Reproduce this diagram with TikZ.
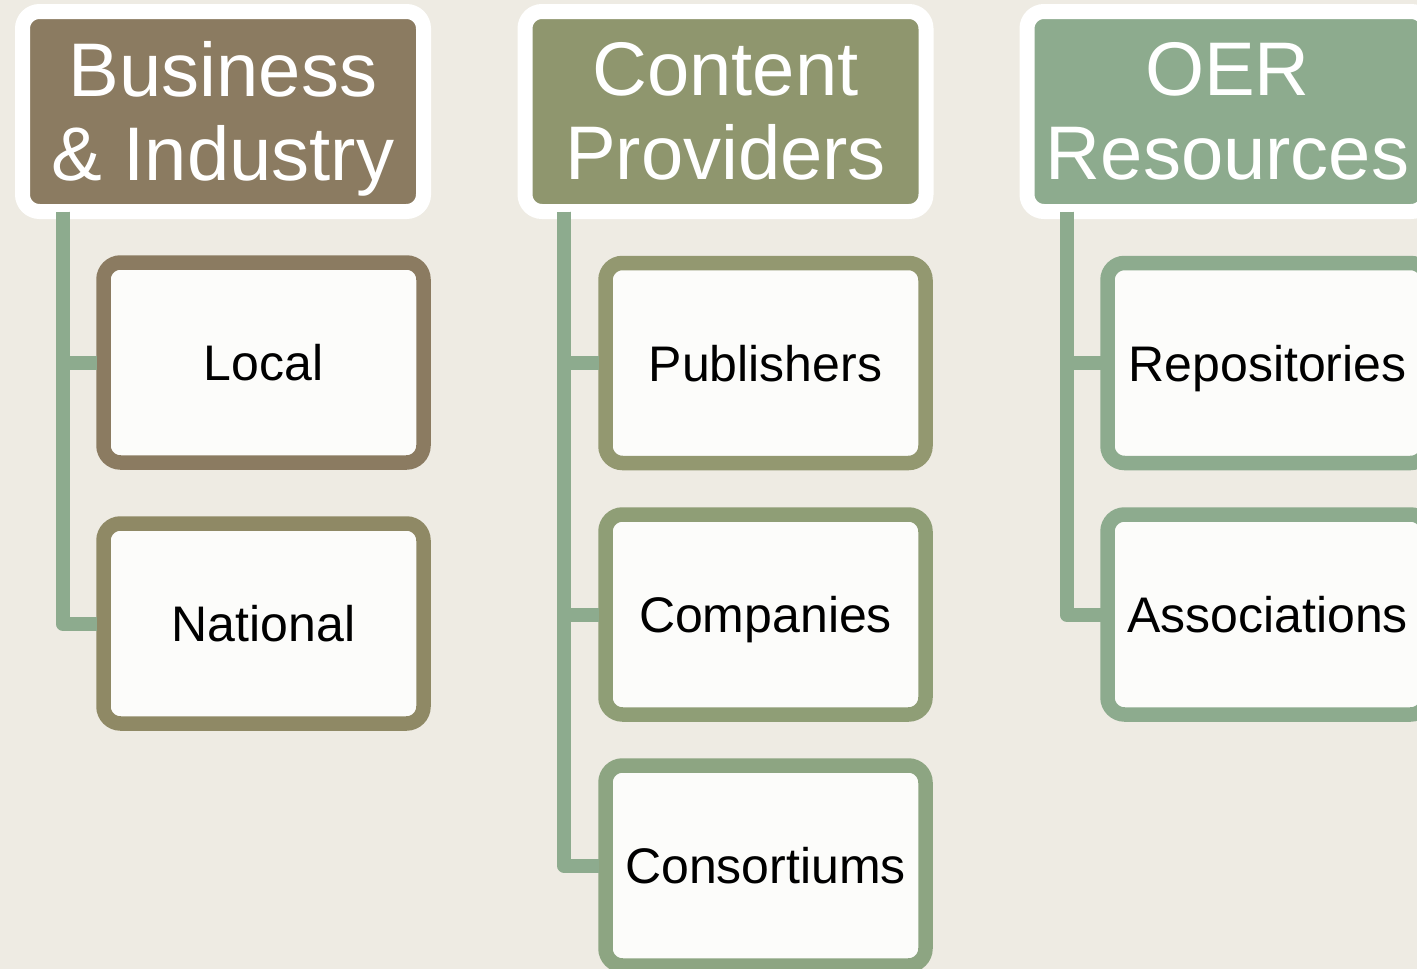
\documentclass[tikz,border=0pt]{standalone}
\usepackage{fontspec}
\setmainfont{Liberation Sans}
\usepackage{tikz}
\usepackage{xcolor}

\definecolor{fundo}{RGB}{238,235,227}
\definecolor{cbrown}{RGB}{139,123,97}
\definecolor{colive}{RGB}{143,150,110}
\definecolor{cgreen}{RGB}{141,171,142}
\definecolor{cnat}{RGB}{143,137,101}
\definecolor{cpub}{RGB}{147,152,112}
\definecolor{ccomp}{RGB}{143,158,118}
\definecolor{ccons}{RGB}{141,165,130}
\definecolor{caixa}{RGB}{252,252,250}

\tikzset{
  headbox/.style={fill=#1, draw=white, line width=15pt, rounded corners=17pt,
    minimum width=401pt, minimum height=200pt, inner sep=0pt, outer sep=0pt,
    text=white, align=center, font=\fontsize{76}{84}\selectfont},
  leafbox/.style={fill=caixa, draw=#1, line width=14.5pt, rounded corners=17pt,
    minimum width=320pt, minimum height=200pt, inner sep=0pt, outer sep=0pt,
    text height=36pt, text depth=0pt, font=\fontsize{50}{60}\selectfont},
  conn/.style={draw=cgreen, line width=14pt, line join=round, shorten >=7pt}
}

\begin{document}
\begin{tikzpicture}[x=1pt, y=-1pt]
    % Fundo
    \useasboundingbox (0,0) rectangle (1417,969);
    \clip (0,0) rectangle (1417,969);
    \fill[fundo] (0,0) rectangle (1417,969);
    % Cabecalhos
    \node[headbox=cbrown] (bus) at (223,111.5) {Business\\\& Industr\smash{y}};
    \node[headbox=colive] (cont) at (725.5,111.5) {Content\\Providers};
    \node[headbox=cgreen] (oer) at (1227.5,111.5) {OER\\Resources};
    % Caixas
    \node[leafbox=cbrown] (local) at (263.5,362.5) {Local};
    \node[leafbox=cnat] (national) at (263.5,623.5) {National};
    \node[leafbox=cpub] (publishers) at (765.5,363) {Publishers};
    \node[leafbox=ccomp] (companies) at (765.5,614.5) {Companies};
    \node[leafbox=ccons] (consortiums) at (765.5,865.5) {Consortiums};
    \node[leafbox=cgreen] (repositories) at (1267.5,363) {Repositories};
    \node[leafbox=cgreen] (associations) at (1267.5,614.5) {Associations};
    % Ligacoes
    \coordinate (busx) at ([xshift=40pt]bus.south west);
    \coordinate (contx) at ([xshift=39pt]cont.south west);
    \coordinate (oerx) at ([xshift=39.5pt]oer.south west);
    \draw[conn] (busx) |- (local.west);
    \draw[conn] (busx) |- (national.west);
    \draw[conn] (contx) |- (publishers.west);
    \draw[conn] (contx) |- (companies.west);
    \draw[conn] (contx) |- (consortiums.west);
    \draw[conn] (oerx) |- (repositories.west);
    \draw[conn] (oerx) |- (associations.west);
\end{tikzpicture}
\end{document}
